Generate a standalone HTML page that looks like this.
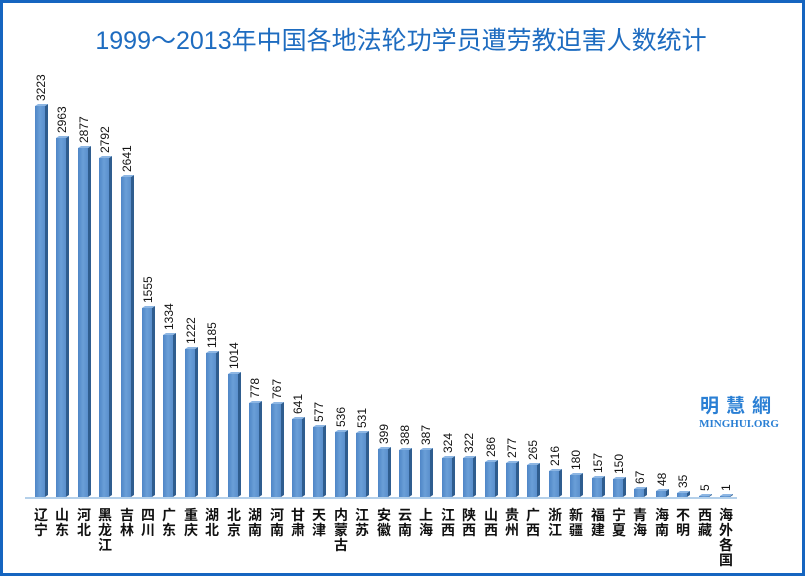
<!DOCTYPE html><html><head><meta charset="utf-8"><style>
html,body{margin:0;padding:0;background:#fff}
svg{display:block}
.v{font-family:"Liberation Sans",sans-serif;font-size:12px;fill:#111}
.l{font-family:"Liberation Sans","Noto Sans CJK SC",sans-serif;font-weight:bold;font-size:14px;fill:#111;text-anchor:middle}
.f{fill:url(#g)}.s{fill:#2f5d8f}.c{fill:#8db6e3}
</style></head><body>
<svg width="807" height="577" viewBox="0 0 807 577" xmlns="http://www.w3.org/2000/svg">
<defs><linearGradient id="g" x1="0" x2="1"><stop offset="0" stop-color="#4f86c6"/><stop offset="0.5" stop-color="#6a9fd8"/><stop offset="1" stop-color="#5a8fcc"/></linearGradient></defs>
<rect x="1.5" y="1.5" width="802" height="573" fill="#fff" stroke="#1565c0" stroke-width="3"/>
<text x="401" y="49" text-anchor="middle" font-family="'Liberation Sans','Noto Sans CJK SC',sans-serif" font-size="25" fill="#1e6cc0">1999～2013年中国各地法轮功学员遭劳教迫害人数统计</text>
<line x1="25" y1="498" x2="737" y2="498" stroke="#9cc0e4" stroke-width="1.5"/>

<g transform="translate(40,106)"><rect class="f" x="-5" y="0" width="10" height="391"/><polygon class="s" points="5,0 8,-2 8,389 5,391"/><polygon class="c" points="-5,0 -2,-2 8,-2 5,0"/><text class="v" transform="translate(5,-5) rotate(-90)">3223</text></g>
<g transform="translate(61,138)"><rect class="f" x="-5" y="0" width="10" height="359"/><polygon class="s" points="5,0 8,-2 8,357 5,359"/><polygon class="c" points="-5,0 -2,-2 8,-2 5,0"/><text class="v" transform="translate(5,-5) rotate(-90)">2963</text></g>
<g transform="translate(83,148)"><rect class="f" x="-5" y="0" width="10" height="349"/><polygon class="s" points="5,0 8,-2 8,347 5,349"/><polygon class="c" points="-5,0 -2,-2 8,-2 5,0"/><text class="v" transform="translate(5,-5) rotate(-90)">2877</text></g>
<g transform="translate(104,158)"><rect class="f" x="-5" y="0" width="10" height="339"/><polygon class="s" points="5,0 8,-2 8,337 5,339"/><polygon class="c" points="-5,0 -2,-2 8,-2 5,0"/><text class="v" transform="translate(5,-5) rotate(-90)">2792</text></g>
<g transform="translate(126,177)"><rect class="f" x="-5" y="0" width="10" height="320"/><polygon class="s" points="5,0 8,-2 8,318 5,320"/><polygon class="c" points="-5,0 -2,-2 8,-2 5,0"/><text class="v" transform="translate(5,-5) rotate(-90)">2641</text></g>
<g transform="translate(147,308)"><rect class="f" x="-5" y="0" width="10" height="189"/><polygon class="s" points="5,0 8,-2 8,187 5,189"/><polygon class="c" points="-5,0 -2,-2 8,-2 5,0"/><text class="v" transform="translate(5,-5) rotate(-90)">1555</text></g>
<g transform="translate(168,335)"><rect class="f" x="-5" y="0" width="10" height="162"/><polygon class="s" points="5,0 8,-2 8,160 5,162"/><polygon class="c" points="-5,0 -2,-2 8,-2 5,0"/><text class="v" transform="translate(5,-5) rotate(-90)">1334</text></g>
<g transform="translate(190,349)"><rect class="f" x="-5" y="0" width="10" height="148"/><polygon class="s" points="5,0 8,-2 8,146 5,148"/><polygon class="c" points="-5,0 -2,-2 8,-2 5,0"/><text class="v" transform="translate(5,-5) rotate(-90)">1222</text></g>
<g transform="translate(211,353)"><rect class="f" x="-5" y="0" width="10" height="144"/><polygon class="s" points="5,0 8,-2 8,142 5,144"/><polygon class="c" points="-5,0 -2,-2 8,-2 5,0"/><text class="v" transform="translate(5,-5) rotate(-90)">1185</text></g>
<g transform="translate(233,374)"><rect class="f" x="-5" y="0" width="10" height="123"/><polygon class="s" points="5,0 8,-2 8,121 5,123"/><polygon class="c" points="-5,0 -2,-2 8,-2 5,0"/><text class="v" transform="translate(5,-5) rotate(-90)">1014</text></g>
<g transform="translate(254,403)"><rect class="f" x="-5" y="0" width="10" height="94"/><polygon class="s" points="5,0 8,-2 8,92 5,94"/><polygon class="c" points="-5,0 -2,-2 8,-2 5,0"/><text class="v" transform="translate(5,-5) rotate(-90)">778</text></g>
<g transform="translate(276,404)"><rect class="f" x="-5" y="0" width="10" height="93"/><polygon class="s" points="5,0 8,-2 8,91 5,93"/><polygon class="c" points="-5,0 -2,-2 8,-2 5,0"/><text class="v" transform="translate(5,-5) rotate(-90)">767</text></g>
<g transform="translate(297,419)"><rect class="f" x="-5" y="0" width="10" height="78"/><polygon class="s" points="5,0 8,-2 8,76 5,78"/><polygon class="c" points="-5,0 -2,-2 8,-2 5,0"/><text class="v" transform="translate(5,-5) rotate(-90)">641</text></g>
<g transform="translate(318,427)"><rect class="f" x="-5" y="0" width="10" height="70"/><polygon class="s" points="5,0 8,-2 8,68 5,70"/><polygon class="c" points="-5,0 -2,-2 8,-2 5,0"/><text class="v" transform="translate(5,-5) rotate(-90)">577</text></g>
<g transform="translate(340,432)"><rect class="f" x="-5" y="0" width="10" height="65"/><polygon class="s" points="5,0 8,-2 8,63 5,65"/><polygon class="c" points="-5,0 -2,-2 8,-2 5,0"/><text class="v" transform="translate(5,-5) rotate(-90)">536</text></g>
<g transform="translate(361,433)"><rect class="f" x="-5" y="0" width="10" height="64"/><polygon class="s" points="5,0 8,-2 8,62 5,64"/><polygon class="c" points="-5,0 -2,-2 8,-2 5,0"/><text class="v" transform="translate(5,-5) rotate(-90)">531</text></g>
<g transform="translate(383,449)"><rect class="f" x="-5" y="0" width="10" height="48"/><polygon class="s" points="5,0 8,-2 8,46 5,48"/><polygon class="c" points="-5,0 -2,-2 8,-2 5,0"/><text class="v" transform="translate(5,-5) rotate(-90)">399</text></g>
<g transform="translate(404,450)"><rect class="f" x="-5" y="0" width="10" height="47"/><polygon class="s" points="5,0 8,-2 8,45 5,47"/><polygon class="c" points="-5,0 -2,-2 8,-2 5,0"/><text class="v" transform="translate(5,-5) rotate(-90)">388</text></g>
<g transform="translate(425,450)"><rect class="f" x="-5" y="0" width="10" height="47"/><polygon class="s" points="5,0 8,-2 8,45 5,47"/><polygon class="c" points="-5,0 -2,-2 8,-2 5,0"/><text class="v" transform="translate(5,-5) rotate(-90)">387</text></g>
<g transform="translate(447,458)"><rect class="f" x="-5" y="0" width="10" height="39"/><polygon class="s" points="5,0 8,-2 8,37 5,39"/><polygon class="c" points="-5,0 -2,-2 8,-2 5,0"/><text class="v" transform="translate(5,-5) rotate(-90)">324</text></g>
<g transform="translate(468,458)"><rect class="f" x="-5" y="0" width="10" height="39"/><polygon class="s" points="5,0 8,-2 8,37 5,39"/><polygon class="c" points="-5,0 -2,-2 8,-2 5,0"/><text class="v" transform="translate(5,-5) rotate(-90)">322</text></g>
<g transform="translate(490,462)"><rect class="f" x="-5" y="0" width="10" height="35"/><polygon class="s" points="5,0 8,-2 8,33 5,35"/><polygon class="c" points="-5,0 -2,-2 8,-2 5,0"/><text class="v" transform="translate(5,-5) rotate(-90)">286</text></g>
<g transform="translate(511,463)"><rect class="f" x="-5" y="0" width="10" height="34"/><polygon class="s" points="5,0 8,-2 8,32 5,34"/><polygon class="c" points="-5,0 -2,-2 8,-2 5,0"/><text class="v" transform="translate(5,-5) rotate(-90)">277</text></g>
<g transform="translate(532,465)"><rect class="f" x="-5" y="0" width="10" height="32"/><polygon class="s" points="5,0 8,-2 8,30 5,32"/><polygon class="c" points="-5,0 -2,-2 8,-2 5,0"/><text class="v" transform="translate(5,-5) rotate(-90)">265</text></g>
<g transform="translate(554,471)"><rect class="f" x="-5" y="0" width="10" height="26"/><polygon class="s" points="5,0 8,-2 8,24 5,26"/><polygon class="c" points="-5,0 -2,-2 8,-2 5,0"/><text class="v" transform="translate(5,-5) rotate(-90)">216</text></g>
<g transform="translate(575,475)"><rect class="f" x="-5" y="0" width="10" height="22"/><polygon class="s" points="5,0 8,-2 8,20 5,22"/><polygon class="c" points="-5,0 -2,-2 8,-2 5,0"/><text class="v" transform="translate(5,-5) rotate(-90)">180</text></g>
<g transform="translate(597,478)"><rect class="f" x="-5" y="0" width="10" height="19"/><polygon class="s" points="5,0 8,-2 8,17 5,19"/><polygon class="c" points="-5,0 -2,-2 8,-2 5,0"/><text class="v" transform="translate(5,-5) rotate(-90)">157</text></g>
<g transform="translate(618,479)"><rect class="f" x="-5" y="0" width="10" height="18"/><polygon class="s" points="5,0 8,-2 8,16 5,18"/><polygon class="c" points="-5,0 -2,-2 8,-2 5,0"/><text class="v" transform="translate(5,-5) rotate(-90)">150</text></g>
<g transform="translate(639,489)"><rect class="f" x="-5" y="0" width="10" height="8"/><polygon class="s" points="5,0 8,-2 8,6 5,8"/><polygon class="c" points="-5,0 -2,-2 8,-2 5,0"/><text class="v" transform="translate(5,-5) rotate(-90)">67</text></g>
<g transform="translate(661,491)"><rect class="f" x="-5" y="0" width="10" height="6"/><polygon class="s" points="5,0 8,-2 8,4 5,6"/><polygon class="c" points="-5,0 -2,-2 8,-2 5,0"/><text class="v" transform="translate(5,-5) rotate(-90)">48</text></g>
<g transform="translate(682,493)"><rect class="f" x="-5" y="0" width="10" height="4"/><polygon class="s" points="5,0 8,-2 8,2 5,4"/><polygon class="c" points="-5,0 -2,-2 8,-2 5,0"/><text class="v" transform="translate(5,-5) rotate(-90)">35</text></g>
<g transform="translate(704,496)"><rect class="f" x="-5" y="0" width="10" height="1"/><polygon class="s" points="5,0 8,-2 8,-1 5,1"/><polygon class="c" points="-5,0 -2,-2 8,-2 5,0"/><text class="v" transform="translate(5,-5) rotate(-90)">5</text></g>
<g transform="translate(725,496)"><rect class="f" x="-5" y="0" width="10" height="1"/><polygon class="s" points="5,0 8,-2 8,-1 5,1"/><polygon class="c" points="-5,0 -2,-2 8,-2 5,0"/><text class="v" transform="translate(5,-5) rotate(-90)">1</text></g>

<g class="l">
<text x="41" y="520">辽</text><text x="41" y="535">宁</text>
<text x="62" y="520">山</text><text x="62" y="535">东</text>
<text x="84" y="520">河</text><text x="84" y="535">北</text>
<text x="105" y="520">黑</text><text x="105" y="535">龙</text><text x="105" y="550">江</text>
<text x="127" y="520">吉</text><text x="127" y="535">林</text>
<text x="148" y="520">四</text><text x="148" y="535">川</text>
<text x="169" y="520">广</text><text x="169" y="535">东</text>
<text x="191" y="520">重</text><text x="191" y="535">庆</text>
<text x="212" y="520">湖</text><text x="212" y="535">北</text>
<text x="234" y="520">北</text><text x="234" y="535">京</text>
<text x="255" y="520">湖</text><text x="255" y="535">南</text>
<text x="277" y="520">河</text><text x="277" y="535">南</text>
<text x="298" y="520">甘</text><text x="298" y="535">肃</text>
<text x="319" y="520">天</text><text x="319" y="535">津</text>
<text x="341" y="520">内</text><text x="341" y="535">蒙</text><text x="341" y="550">古</text>
<text x="362" y="520">江</text><text x="362" y="535">苏</text>
<text x="384" y="520">安</text><text x="384" y="535">徽</text>
<text x="405" y="520">云</text><text x="405" y="535">南</text>
<text x="426" y="520">上</text><text x="426" y="535">海</text>
<text x="448" y="520">江</text><text x="448" y="535">西</text>
<text x="469" y="520">陕</text><text x="469" y="535">西</text>
<text x="491" y="520">山</text><text x="491" y="535">西</text>
<text x="512" y="520">贵</text><text x="512" y="535">州</text>
<text x="533" y="520">广</text><text x="533" y="535">西</text>
<text x="555" y="520">浙</text><text x="555" y="535">江</text>
<text x="576" y="520">新</text><text x="576" y="535">疆</text>
<text x="598" y="520">福</text><text x="598" y="535">建</text>
<text x="619" y="520">宁</text><text x="619" y="535">夏</text>
<text x="640" y="520">青</text><text x="640" y="535">海</text>
<text x="662" y="520">海</text><text x="662" y="535">南</text>
<text x="683" y="520">不</text><text x="683" y="535">明</text>
<text x="705" y="520">西</text><text x="705" y="535">藏</text>
<text x="726" y="520">海</text><text x="726" y="535">外</text><text x="726" y="550">各</text><text x="726" y="565">国</text>
</g>

<text x="739" y="412" text-anchor="middle" font-family="'Noto Sans CJK SC',sans-serif" font-weight="bold" font-size="19" letter-spacing="7" fill="#2a7fd4">明慧網</text>
<text x="739" y="427" text-anchor="middle" font-family="'Liberation Serif',serif" font-weight="bold" font-size="11" fill="#2a7fd4">MINGHUI.ORG</text>
</svg>
</body></html>
